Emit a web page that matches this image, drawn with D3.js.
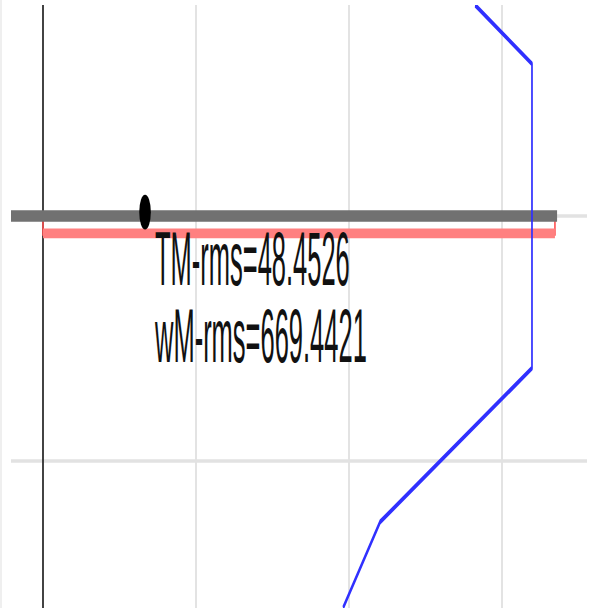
<!DOCTYPE html>
<html>
<head>
<meta charset="utf-8">
<script src="https://cdn.jsdelivr.net/npm/d3@7"></script>
<style>
  html, body { margin: 0; padding: 0; background: #fff; }
  svg { display: block; }
</style>
</head>
<body>
<script>
// Profile values (x = model value, y = depth, downward)
const profileX = [2.824, 3.196, 3.196, 2.203, 1.961];
const profileY = [-0.861, -0.621, 0.621, 1.249, 1.600];

// Reference level and misfit markers
const refLevelY = [0];
const refLevelEndX = [3.36];
const misfitBoxX = [0, 3.346];
const misfitBoxY = [0, 0.071];
const markerX = [0.667];
const markerY = [-0.016];

// Grid ticks
const xTicks = [1, 2, 3];
const yTicks = [0, 1];

// Annotation text
const rmsLabels = ["TM-rms=48.4526", "wM-rms=669.4421"];

const W = 590, H = 608;
const SY = 3;                 // vertical stretch of the drawing
const innerH = H / SY;

const svg = d3.select("body").append("svg")
  .attr("width", W).attr("height", H);

svg.append("rect").attr("x", 0).attr("y", 0).attr("width", 2).attr("height", H)
  .attr("fill", "#efefef");

const g = svg.append("g").attr("transform", `scale(1,${SY})`);

const plot = { left: 11, right: 587, top: 5 / SY, bottom: innerH };

const x = d3.scaleLinear().domain([0, 3]).range([43, 502]);
const y = d3.scaleLinear().domain([0, 1]).range([72, 72 + 245 / SY]);

g.append("clipPath").attr("id", "clip")
  .append("rect")
  .attr("x", plot.left).attr("y", plot.top)
  .attr("width", plot.right - plot.left).attr("height", plot.bottom - plot.top);

// grid
const grid = g.append("g");
grid.selectAll("line.vx").data(xTicks).join("line")
  .attr("x1", d => x(d)).attr("x2", d => x(d))
  .attr("y1", plot.top).attr("y2", plot.bottom)
  .attr("stroke", "#dcdcdc").attr("stroke-width", 1.6);
grid.selectAll("line.hy").data(yTicks).join("line")
  .attr("x1", plot.left).attr("x2", plot.right)
  .attr("y1", d => y(d)).attr("y2", d => y(d))
  .attr("stroke", "#e2e2e2").attr("stroke-width", 1.1);

// axis line at x = 0
g.append("line")
  .attr("x1", x(0)).attr("x2", x(0))
  .attr("y1", plot.top).attr("y2", plot.bottom)
  .attr("stroke", "#2e2e2e").attr("stroke-width", 1.8);

const body = g.append("g").attr("clip-path", "url(#clip)");

// misfit box (red)
body.append("path")
  .attr("d", `M${x(misfitBoxX[0])},${y(misfitBoxY[0])}V${y(misfitBoxY[1])}H${x(misfitBoxX[1])}V${y(misfitBoxY[0])}`)
  .attr("fill", "none").attr("stroke", "#ff5050").attr("stroke-width", 1.6);
body.append("line")
  .attr("x1", x(misfitBoxX[0])).attr("x2", x(misfitBoxX[1]))
  .attr("y1", y(misfitBoxY[1])).attr("y2", y(misfitBoxY[1]))
  .attr("stroke", "#ff8080").attr("stroke-width", 3.2);

// reference level (gray band)
body.selectAll("line.ref").data(refLevelY).join("line")
  .attr("x1", plot.left).attr("x2", (d, i) => x(refLevelEndX[i]))
  .attr("y1", d => y(d)).attr("y2", d => y(d))
  .attr("stroke", "#717171").attr("stroke-width", 3.8);

// profile line
const line = d3.line().x(d => x(d[0])).y(d => y(d[1]));
body.append("path")
  .datum(d3.zip(profileX, profileY))
  .attr("d", line)
  .attr("fill", "none").attr("stroke", "#3030ff").attr("stroke-width", 1.7)
  .attr("stroke-linejoin", "round");

// marker
body.selectAll("circle.m").data(markerX).join("circle")
  .attr("cx", d => x(d)).attr("cy", (d, i) => y(markerY[i]))
  .attr("r", 5.8).attr("fill", "#000");

// annotation, one text element per line
g.selectAll("text.rms").data(rmsLabels).join("text")
  .attr("class", "rms")
  .attr("font-family", "Liberation Sans, Arial, sans-serif")
  .attr("font-size", 25.5).attr("fill", "#111")
  .attr("x", 155)
  .attr("y", (d, i) => 95 + i * 25.7)
  .text(d => d);
</script>
</body>
</html>
